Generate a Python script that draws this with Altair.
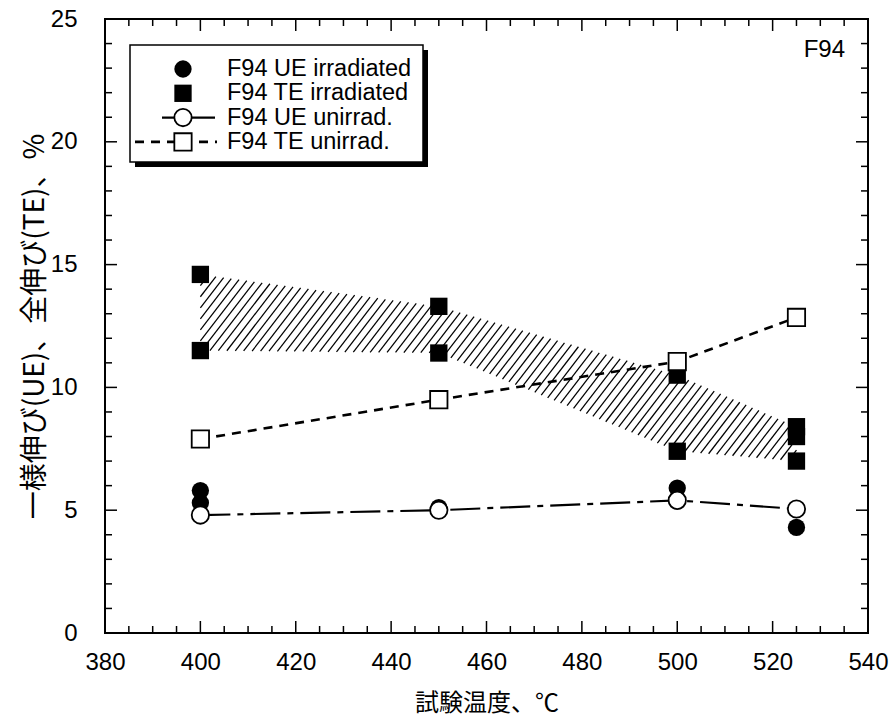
import altair as alt
import pandas as pd
import numpy as np

# ---------------- data ----------------
temps = [400, 450, 500, 525]
ue_irr_t = [400, 400, 450, 500, 525]
ue_irr = [5.8, 5.3, 5.1, 5.9, 4.3]
te_irr_t = [400, 400, 450, 450, 500, 500, 525, 525, 525]
te_irr = [14.6, 11.5, 13.3, 11.4, 10.5, 7.4, 8.4, 8.0, 7.0]
ue_unirr = [4.8, 5.0, 5.4, 5.05]
te_unirr = [7.9, 9.5, 11.05, 12.85]
band_upper = [14.6, 13.3, 10.5, 8.4]
band_lower = [11.5, 11.4, 7.4, 7.0]

x_major = list(range(380, 541, 20))
x_minor = [v for v in range(380, 541, 5) if v % 20]
y_major = [0, 5, 10, 15, 20, 25]
y_minor = [v for v in range(0, 26) if v % 5]

legend_labels = ["F94 UE irradiated", "F94 TE irradiated", "F94 UE unirrad.", "F94 TE unirrad."]
panel_label = "F94"

# ---------------- layout ----------------
W, H = 763, 614
XDOM, YDOM = [380, 540], [0, 25]
NUM_FONT = "Liberation Sans, Arial"
TXT_FONT = "Liberation Sans, Arial"
CJK_FONT = "Noto Sans CJK JP"

xscale = alt.Scale(domain=XDOM, nice=False, zero=False)
yscale = alt.Scale(domain=YDOM, nice=False, zero=False)
xaxis = alt.Axis(values=x_major, format="d", domain=False, ticks=False, grid=False,
                 labelFont=NUM_FONT, labelFontSize=24, labelPadding=17, labelColor="black",
                 title="試験温度、℃", titleFont=CJK_FONT, titleFontSize=24,
                 titleFontWeight="normal", titleColor="black", titlePadding=17, labelFlush=False)
yaxis = alt.Axis(values=y_major, format="d", domain=False, ticks=False, grid=False,
                 labelFont=NUM_FONT, labelFontSize=24, labelPadding=28, labelColor="black",
                 title="一様伸び(UE)、全伸び(TE)、%", titleFont=CJK_FONT, titleFontSize=28,
                 titleFontWeight="normal", titleColor="black", titlePadding=1, labelFlush=False)


def X(f):
    return alt.X(f, type="quantitative", scale=xscale, axis=xaxis)


def Y(f):
    return alt.Y(f, type="quantitative", scale=yscale, axis=yaxis)


# ---------------- hatch band ----------------
sx, sy = W / (XDOM[1] - XDOM[0]), H / (YDOM[1] - YDOM[0])
k = 1.3 * sx / sy           # slope of hatch lines in data units
dx = 8.5 / sx               # horizontal spacing of hatch lines
xs = np.linspace(temps[0], temps[-1], 5001)
lo = np.interp(xs, temps, band_lower)
hi = np.interp(xs, temps, band_upper)
c_min = band_lower[-1] - k * (temps[-1] - temps[0]) - k * dx
c_max = band_upper[0] + k * dx
rows = []
for c in np.arange(c_min, c_max, k * dx):
    yl = c + k * (xs - temps[0])
    m = (yl >= lo) & (yl <= hi)
    if m.sum() > 2:
        x0, x1 = xs[m].min(), xs[m].max()
        rows.append({"x0": x0, "y0": c + k * (x0 - temps[0]), "x1": x1, "y1": c + k * (x1 - temps[0])})
hatch_df = pd.DataFrame(rows)

hatch = alt.Chart(hatch_df).mark_rule(color="black", strokeWidth=1.25).encode(
    x=X("x0"), y=Y("y0"), x2="x1", y2="y1")

# ---------------- series ----------------
ue_un_df = pd.DataFrame({"t": temps, "v": ue_unirr})
te_un_df = pd.DataFrame({"t": temps, "v": te_unirr})
ue_ir_df = pd.DataFrame({"t": ue_irr_t, "v": ue_irr})
te_ir_df = pd.DataFrame({"t": te_irr_t, "v": te_irr})

ue_line = alt.Chart(ue_un_df).mark_line(color="black", strokeWidth=2.2, strokeDash=[30, 7, 6, 7]).encode(
    x=X("t"), y=Y("v"))
te_line = alt.Chart(te_un_df).mark_line(color="black", strokeWidth=2.6, strokeDash=[9, 7]).encode(
    x=X("t"), y=Y("v"))

SZ = 300
ue_ir_pts = alt.Chart(ue_ir_df).mark_point(shape="circle", filled=True, color="black", size=SZ, opacity=1).encode(
    x=X("t"), y=Y("v"))
te_ir_pts = alt.Chart(te_ir_df).mark_point(shape="square", filled=True, color="black", size=SZ, opacity=1).encode(
    x=X("t"), y=Y("v"))
ue_un_pts = alt.Chart(ue_un_df).mark_point(shape="circle", filled=True, fill="white", stroke="black",
                                           strokeWidth=1.8, size=SZ, opacity=1).encode(x=X("t"), y=Y("v"))
te_un_pts = alt.Chart(te_un_df).mark_point(shape="square", filled=True, fill="white", stroke="black",
                                           strokeWidth=1.8, size=SZ, opacity=1).encode(x=X("t"), y=Y("v"))

# ---------------- inward ticks on all four sides ----------------
def xticks(vals, ln):
    d = pd.DataFrame({"v": vals})
    b = alt.Chart(d).mark_rule(color="black", strokeWidth=1.5).encode(
        x=X("v"), y=alt.value(H), y2=alt.value(H - ln))
    t = alt.Chart(d).mark_rule(color="black", strokeWidth=1.5).encode(
        x=X("v"), y=alt.value(0), y2=alt.value(ln))
    return [b, t]


def yticks(vals, ln):
    d = pd.DataFrame({"v": vals})
    l = alt.Chart(d).mark_rule(color="black", strokeWidth=1.5).encode(
        y=Y("v"), x=alt.value(0), x2=alt.value(ln))
    r = alt.Chart(d).mark_rule(color="black", strokeWidth=1.5).encode(
        y=Y("v"), x=alt.value(W), x2=alt.value(W - ln))
    return [l, r]


tick_layers = xticks(x_major, 12) + xticks(x_minor, 7) + yticks(y_major, 12) + yticks(y_minor, 7)

# ---------------- manual legend ----------------
one = pd.DataFrame({"a": [0]})
LX0, LX1, LY0, LY1, SH = 25, 318, 26, 143, 5
shadow = alt.Chart(one).mark_rect(color="black").encode(
    x=alt.value(LX0 + SH), x2=alt.value(LX1 + SH), y=alt.value(LY0 + SH), y2=alt.value(LY1 + SH))
box = alt.Chart(one).mark_rect(fill="white", stroke="black", strokeWidth=1.5).encode(
    x=alt.value(LX0), x2=alt.value(LX1), y=alt.value(LY0), y2=alt.value(LY1))

row_y = [50 + 24.3 * i for i in range(len(legend_labels))]
SYMX = 78
leg = [shadow, box]
leg.append(alt.Chart(one).mark_rule(color="black", strokeWidth=2.2).encode(
    x=alt.value(57), x2=alt.value(110), y=alt.value(row_y[2])))
leg.append(alt.Chart(one).mark_rule(color="black", strokeWidth=2.6, strokeDash=[9, 7]).encode(
    x=alt.value(30), x2=alt.value(112), y=alt.value(row_y[3])))
leg.append(alt.Chart(one).mark_point(shape="circle", filled=True, color="black", size=SZ, opacity=1).encode(
    x=alt.value(SYMX), y=alt.value(row_y[0])))
leg.append(alt.Chart(one).mark_point(shape="square", filled=True, color="black", size=SZ, opacity=1).encode(
    x=alt.value(SYMX), y=alt.value(row_y[1])))
leg.append(alt.Chart(one).mark_point(shape="circle", filled=True, fill="white", stroke="black", strokeWidth=1.8,
                                     size=SZ, opacity=1).encode(x=alt.value(SYMX), y=alt.value(row_y[2])))
leg.append(alt.Chart(one).mark_point(shape="square", filled=True, fill="white", stroke="black", strokeWidth=1.8,
                                     size=SZ, opacity=1).encode(x=alt.value(SYMX), y=alt.value(row_y[3])))
for lab, ry in zip(legend_labels, row_y):
    leg.append(alt.Chart(pd.DataFrame({"label": [lab]})).mark_text(
        align="left", baseline="middle", font=TXT_FONT, fontSize=23.5, color="black").encode(
        x=alt.value(122), y=alt.value(ry), text="label:N"))

panel = alt.Chart(pd.DataFrame({"label": [panel_label]})).mark_text(
    align="right", baseline="middle", font=TXT_FONT, fontSize=24, color="black").encode(
    x=alt.value(740), y=alt.value(31), text="label:N")

chart = alt.layer(
    hatch, ue_line, te_line, ue_ir_pts, te_ir_pts, ue_un_pts, te_un_pts,
    *tick_layers, *leg, panel
).properties(
    width=W, height=H,
    autosize=alt.AutoSizeParams(type="none"),
    padding={"left": 105, "top": 19, "right": 25, "bottom": 88},
    background="white",
).configure_view(stroke="black", strokeWidth=2)

chart.save("out.html", embed_options={"renderer": "svg", "actions": False})
